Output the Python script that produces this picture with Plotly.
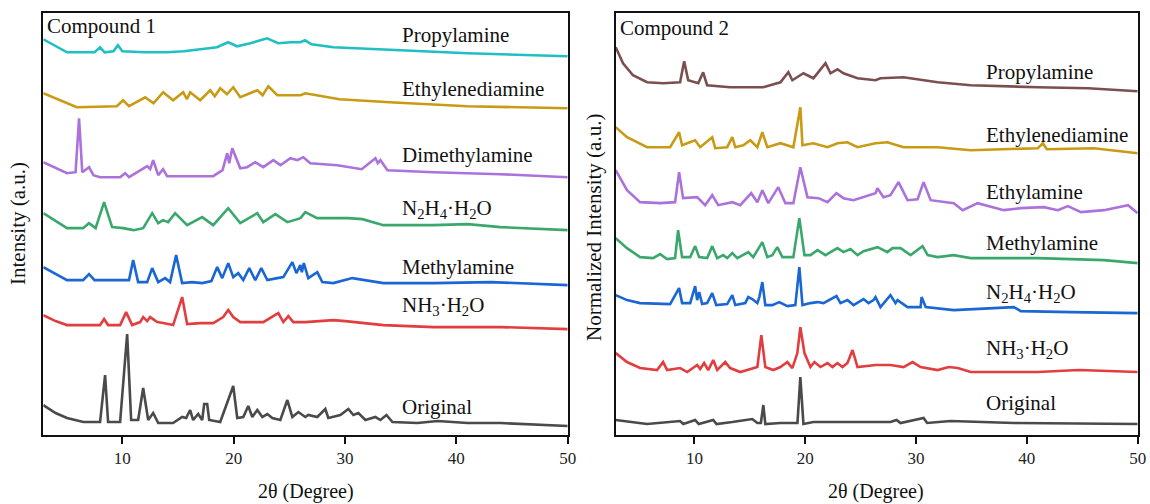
import plotly.graph_objects as go

# ---------------- Compound 1 (2theta, stacked intensity a.u.) ----------------
c1_names = ["Propylamine", "Ethylenediamine", "Dimethylamine",
            "N<sub>2</sub>H<sub>4</sub>·H<sub>2</sub>O", "Methylamine",
            "NH<sub>3</sub>·H<sub>2</sub>O", "Original"]

c1_propylamine_x = [2.9, 5.03, 7.5, 8.0, 8.4, 9.2, 9.6, 10.0, 12.0, 14.0, 15.5, 17.0, 18.5, 19.5, 20.3,
                    21.5, 23.0, 24.0, 25.1, 26.0, 26.4, 27.0, 28.95, 35.0, 41.0, 50.0]
c1_propylamine_y = [396, 383, 383, 388, 383, 384, 390, 384, 383, 383, 384, 386, 388, 393, 389,
                    392, 397, 392, 393, 393, 395, 391, 388, 385, 382, 379]

c1_ethylenediamine_x = [2.9, 5.9, 9.5, 10.07, 10.6, 12.05, 12.8, 13.66, 14.56, 15.46, 15.8, 16.09, 16.99,
                        17.89, 18.3, 18.79, 19.4, 19.96, 20.59, 22.12, 22.6, 23.11, 23.92, 26.0, 26.43,
                        27.96, 29.5, 33.99, 41.0, 50.0]
c1_ethylenediamine_y = [342, 328, 329, 335, 329, 338, 332, 343, 335, 343, 336, 343, 335,
                        345, 339, 347, 341, 348, 338, 345, 340, 349, 340, 340, 342,
                        339, 336, 333, 329, 327]

c1_dimethylamine_x = [2.9, 5.03, 5.8, 6.11, 6.4, 7.01, 7.4, 8.0, 9.8, 10.25, 10.6, 12.23, 12.5, 12.77,
                      13.22, 13.66, 14.02, 18.16, 19.0, 19.42, 19.6, 19.87, 20.59, 21.2, 21.94, 22.66,
                      23.56, 24.2, 25.09, 25.72, 26.25, 26.88, 29.31, 30.48, 31.5, 32.73, 32.95, 33.18,
                      33.81, 37.95, 43.97, 50.0]
c1_dimethylamine_y = [273, 262, 263, 317, 263, 268, 260, 258, 258, 262, 258, 269, 266, 275,
                      260, 266, 259, 259, 265, 282, 272, 287, 267, 268, 273, 268,
                      275, 270, 277, 275, 278, 272, 270, 268, 266, 277, 272, 275,
                      265, 263, 261, 258]

c1_n2h4_x = [2.9, 5.03, 6.47, 7.01, 7.6, 8.36, 9.08, 10.07, 11.0, 11.87, 12.68, 13.22, 13.66, 14.11,
             14.74, 15.82, 17.17, 18.16, 19.51, 20.59, 22.12, 22.66, 23.74, 24.82, 26.0, 26.43, 27.5,
             30.3, 31.56, 33.45, 37.95, 41.0, 43.97, 50.0]
c1_n2h4_y = [222, 207, 207, 212, 207, 233, 208, 207, 205, 207, 222, 212, 215, 213,
             222, 210, 218, 210, 227, 212, 222, 213, 221, 213, 217, 223, 217,
             217, 216, 210, 210, 211, 208, 205]

c1_methylamine_x = [2.9, 5.03, 6.47, 7.01, 7.5, 10.6, 10.97, 11.42, 12.23, 12.68, 13.22, 13.84, 14.29,
                    14.83, 15.37, 16.27, 17.17, 18.0, 18.52, 18.97, 19.51, 19.96, 20.41, 20.86, 21.4,
                    21.94, 22.48, 23.02, 23.92, 24.46, 25.27, 25.63, 25.99, 26.12, 26.3, 26.7, 27.51,
                    27.96, 28.95, 30.66, 33.45, 37.95, 43.07, 50.0]
c1_methylamine_y = [168, 155, 155, 161, 155, 155, 175, 153, 153, 167, 153, 157, 153,
                    180, 152, 153, 152, 154, 168, 157, 172, 158, 162, 155, 167,
                    155, 167, 155, 157, 158, 173, 162, 170, 163, 172, 157, 163,
                    153, 152, 157, 152, 152, 153, 150]

c1_nh3_x = [2.9, 4.0, 5.03, 8.0, 8.36, 8.72, 9.8, 10.34, 10.88, 11.6, 11.87, 12.23, 12.5, 13.13, 13.66,
            14.56, 15.37, 15.82, 16.99, 18.16, 19.06, 19.51, 19.96, 20.59, 22.66, 24.01, 24.46, 24.91,
            25.36, 26.43, 28.95, 30.03, 33.45, 37.95, 43.97, 50.0]
c1_nh3_y = [120, 114, 110, 110, 116, 110, 110, 123, 110, 113, 118, 114, 118, 113, 112,
            110, 138, 111, 112, 112, 118, 125, 118, 113, 113, 122, 113, 119,
            113, 113, 115, 114, 110, 108, 108, 106]

c1_original_x = [2.9, 4.0, 5.03, 6.5, 8.0, 8.45, 8.72, 9.8, 10.43, 10.79, 11.42, 11.87, 12.32, 12.77,
                 13.22, 14.56, 15.37, 15.73, 16.09, 16.36, 16.81, 17.17, 17.35, 17.62, 17.8, 18.79,
                 19.96, 20.32, 20.86, 21.31, 21.67, 22.12, 22.57, 23.02, 23.47, 24.19, 24.82, 25.27,
                 25.81, 26.43, 26.7, 27.51, 28.23, 28.5, 29.58, 30.3, 30.75, 31.2, 31.83, 32.73,
                 33.18, 33.72, 34.26, 36.51, 38.31, 41.0, 43.97, 50.0]
c1_original_y = [30, 22, 17, 13, 13, 60, 13, 13, 101, 15, 15, 47, 15, 22,
                 12, 12, 18, 17, 25, 15, 21, 15, 31, 31, 15, 13,
                 49, 17, 18, 29, 18, 25, 18, 21, 17, 15, 35, 18,
                 23, 18, 20, 18, 26, 17, 20, 26, 20, 22, 15, 18,
                 15, 20, 13, 12, 14, 12, 12, 9]

# ---------------- Compound 2 ----------------
c2_names = ["Propylamine", "Ethylenediamine", "Ethylamine", "Methylamine",
            "N<sub>2</sub>H<sub>4</sub>·H<sub>2</sub>O", "NH<sub>3</sub>·H<sub>2</sub>O", "Original"]

c2_propylamine_x = [2.9, 3.56, 4.46, 5.73, 7.18, 8.71, 9.08, 9.44, 10.35, 10.79, 11.15, 13.23, 16.22,
                    17.76, 18.48, 18.84, 19.84, 20.74, 21.83, 22.28, 22.91, 23.45, 24.72, 26.34, 26.79,
                    28.87, 31.95, 34.93, 40.99, 45.51, 50.0]
c2_propylamine_y = [388, 372, 360, 353, 352, 353, 374, 355, 352, 363, 350, 348, 348,
                    353, 363, 355, 362, 357, 372, 362, 366, 362, 357, 355, 357,
                    358, 353, 350, 348, 347, 344]

c2_ethylenediamine_x = [2.9, 3.92, 5.73, 7.81, 8.62, 8.89, 9.35, 10.07, 10.52, 11.61, 11.88, 12.96, 13.42,
                        13.69, 14.41, 15.04, 15.68, 16.13, 16.58, 17.76, 18.93, 19.56, 19.75, 20.74,
                        22.01, 22.91, 23.81, 24.72, 26.34, 27.42, 28.87, 31.95, 34.93, 40.99, 41.44,
                        41.8, 46.05, 50.0]
c2_ethylenediamine_y = [308, 298, 288, 288, 303, 290, 292, 295, 288, 298, 287, 288, 298,
                        288, 290, 295, 288, 303, 288, 292, 288, 328, 290, 292,
                        288, 292, 293, 288, 292, 293, 288, 288, 285, 287, 292,
                        286, 287, 282]

c2_ethylamine_x = [2.9, 3.92, 5.1, 6.91, 8.26, 8.62, 8.98, 10.25, 10.97, 11.61, 12.15, 13.42, 14.14,
                   15.13, 15.68, 16.13, 16.67, 17.57, 18.21, 18.93, 19.56, 20.2, 21.2, 22.01, 22.82,
                   23.45, 24.36, 25.26, 26.34, 26.52, 27.06, 27.69, 28.42, 29.23, 30.14, 30.68, 31.32,
                   33.4, 34.21, 35.56, 37.92, 39.45, 41.53, 42.8, 43.7, 44.88, 46.96, 49.13, 50.0]
c2_ethylamine_y = [265, 245, 233, 232, 233, 263, 237, 238, 230, 240, 230, 233, 230,
                   242, 233, 245, 232, 248, 232, 232, 268, 238, 237, 233, 242,
                   237, 235, 238, 242, 247, 238, 240, 253, 235, 236, 253, 235,
                   232, 225, 232, 225, 227, 228, 225, 229, 223, 225, 230, 222]

c2_methylamine_x = [2.9, 3.92, 5.1, 6.27, 6.91, 7.54, 8.26, 8.53, 8.89, 9.62, 10.07, 10.43, 11.15, 11.61,
                    12.06, 12.6, 12.96, 13.42, 13.87, 14.86, 15.31, 16.13, 16.58, 17.03, 17.48, 17.94,
                    18.93, 19.47, 19.93, 20.47, 21.11, 21.83, 22.91, 23.45, 24.09, 24.72, 25.26, 26.34,
                    26.52, 27.42, 27.87, 28.6, 29.51, 30.59, 31.05, 31.95, 33.4, 34.93, 40.99, 46.96, 50.0]
c2_methylamine_y = [197, 187, 178, 177, 181, 176, 177, 205, 178, 178, 189, 178, 177, 189,
                    177, 180, 177, 182, 177, 183, 178, 193, 178, 180, 188, 178,
                    178, 217, 180, 180, 185, 180, 187, 183, 186, 180, 184, 187,
                    188, 183, 187, 187, 180, 189, 180, 178, 180, 177, 177, 175, 172]

c2_n2h4_x = [2.9, 3.92, 5.1, 7.81, 8.62, 8.89, 9.62, 10.07, 10.25, 10.43, 10.7, 11.15, 11.61, 11.97,
             12.96, 13.42, 13.69, 14.59, 14.86, 15.22, 15.68, 15.86, 16.13, 16.4, 17.03, 17.66, 18.39,
             19.11, 19.47, 19.75, 20.47, 21.11, 21.65, 22.82, 23.18, 23.81, 24.36, 25.26, 25.71,
             26.16, 26.34, 26.79, 27.69, 28.15, 28.33, 29.23, 30.41, 30.5, 30.87, 33.4, 38.82,
             39.45, 43.97, 50.0]
c2_n2h4_y = [140, 135, 132, 131, 147, 132, 132, 149, 135, 143, 131, 132, 142, 130,
             131, 140, 130, 132, 138, 136, 132, 138, 153, 130, 130, 133, 129,
             130, 168, 130, 132, 133, 132, 139, 132, 135, 130, 136, 132,
             135, 138, 128, 140, 132, 135, 128, 128, 138, 128, 125, 128,
             124, 123, 122]

c2_nh3_x = [2.9, 3.92, 5.1, 6.63, 7.18, 7.54, 8.71, 9.35, 10.25, 10.52, 10.88, 11.25, 11.7, 12.06, 12.78,
            13.23, 14.14, 15.22, 15.68, 16.04, 16.4, 17.12, 17.76, 18.39, 18.84, 19.29, 19.56, 19.93,
            20.47, 20.83, 21.38, 22.01, 22.46, 22.91, 23.36, 23.81, 24.27, 24.72, 26.34, 27.69, 28.87,
            29.69, 30.41, 31.95, 32.95, 33.76, 34.93, 40.99, 44.7, 50.0]
c2_nh3_y = [82, 73, 67, 65, 73, 65, 67, 63, 70, 66, 72, 65, 75, 65, 73,
            67, 63, 67, 68, 100, 68, 65, 68, 73, 67, 82, 108, 82,
            68, 73, 68, 72, 68, 72, 68, 72, 85, 68, 70, 70, 68,
            73, 68, 65, 68, 67, 63, 63, 65, 63]

c2_original_x = [2.9, 5.73, 8.71, 9.0, 10.07, 10.4, 11.7, 12.0, 13.42, 15.22, 15.68, 16.0, 16.22, 16.4,
                 17.76, 19.3, 19.56, 19.84, 20.74, 22.91, 27.69, 28.24, 28.6, 30.68, 31.0, 33.13,
                 38.82, 50.0]
c2_original_y = [15, 11, 14, 11, 15, 11, 15, 11, 13, 16, 12, 12, 30, 11,
                 12, 12, 58, 11, 13, 13, 13, 15, 12, 17, 12, 14,
                 12, 11]

colors = ["#1fbfc3", "#c99a14", "#ab72dc", "#3aa86c", "#1a66d4", "#e23d3f", "#4a4a4a"]
colors2 = ["#7b4f4f", "#c99a14", "#ab72dc", "#3aa86c", "#1a66d4", "#e23d3f", "#4a4a4a"]

c1_series = [(c1_propylamine_x, c1_propylamine_y), (c1_ethylenediamine_x, c1_ethylenediamine_y),
             (c1_dimethylamine_x, c1_dimethylamine_y), (c1_n2h4_x, c1_n2h4_y),
             (c1_methylamine_x, c1_methylamine_y), (c1_nh3_x, c1_nh3_y),
             (c1_original_x, c1_original_y)]
c2_series = [(c2_propylamine_x, c2_propylamine_y), (c2_ethylenediamine_x, c2_ethylenediamine_y),
             (c2_ethylamine_x, c2_ethylamine_y), (c2_methylamine_x, c2_methylamine_y),
             (c2_n2h4_x, c2_n2h4_y), (c2_nh3_x, c2_nh3_y), (c2_original_x, c2_original_y)]

# label vertical positions (a.u.)
c1_label_y = [400, 346, 280, 226, 168, 129, 28]
c2_label_y = [363, 300, 243, 192, 142, 86, 32]

FONT = "Liberation Serif, Times New Roman, serif"

fig = go.Figure()
for (xs, ys), col, nm in zip(c1_series, colors, c1_names):
    fig.add_trace(go.Scatter(x=xs, y=ys, mode="lines", line=dict(color=col, width=2.6),
                             name=nm, xaxis="x", yaxis="y", hoverinfo="skip"))
for (xs, ys), col, nm in zip(c2_series, colors2, c2_names):
    fig.add_trace(go.Scatter(x=xs, y=ys, mode="lines", line=dict(color=col, width=2.6),
                             name=nm, xaxis="x2", yaxis="y2", hoverinfo="skip"))

annotations = []
for nm, yv in zip(c1_names, c1_label_y):
    annotations.append(dict(x=34.9, y=yv, xref="x", yref="y", text=nm, showarrow=False,
                            xanchor="left", yanchor="middle", font=dict(family=FONT, size=21, color="#111")))
for nm, yv in zip(c2_names, c2_label_y):
    annotations.append(dict(x=36.1, y=yv, xref="x2", yref="y2", text=nm, showarrow=False,
                            xanchor="left", yanchor="middle", font=dict(family=FONT, size=21, color="#111")))
annotations += [
    dict(x=3.05, y=409, xref="x", yref="y", text="Compound 1", showarrow=False, xanchor="left",
         yanchor="middle", font=dict(family=FONT, size=21, color="#111")),
    dict(x=3.1, y=407, xref="x2", yref="y2", text="Compound 2", showarrow=False, xanchor="left",
         yanchor="middle", font=dict(family=FONT, size=21, color="#111")),
    dict(x=306 / 1150, y=(504 - 491) / 504, xref="paper", yref="paper", text="2θ (Degree)",
         showarrow=False, xanchor="center", yanchor="middle", font=dict(family=FONT, size=20, color="#111")),
    dict(x=876 / 1150, y=(504 - 491) / 504, xref="paper", yref="paper", text="2θ (Degree)",
         showarrow=False, xanchor="center", yanchor="middle", font=dict(family=FONT, size=20, color="#111")),
    dict(x=18 / 1150, y=(504 - 224) / 504, xref="paper", yref="paper", text="Intensity (a.u.)",
         showarrow=False, textangle=-90, xanchor="center", yanchor="middle",
         font=dict(family=FONT, size=21, color="#111")),
    dict(x=594 / 1150, y=(504 - 228) / 504, xref="paper", yref="paper", text="Normalized Intensity (a.u.)",
         showarrow=False, textangle=-90, xanchor="center", yanchor="middle",
         font=dict(family=FONT, size=21, color="#111")),
]

xaxis_common = dict(range=[2.9, 50], tickvals=[10, 20, 30, 40, 50], ticks="outside", ticklen=7,
                    tickwidth=2, tickcolor="#111", showline=True, linecolor="#111", linewidth=2,
                    mirror=True, showgrid=False, zeroline=False, automargin=False,
                    tickfont=dict(family=FONT, size=17, color="#222"))
yaxis_common = dict(range=[0, 422], showticklabels=False, ticks="", showline=True, linecolor="#111",
                    linewidth=2, mirror=True, showgrid=False, zeroline=False, automargin=False,
                    domain=[69 / 504, (504 - 13.3) / 504])

fig.update_layout(
    width=1150, height=504, margin=dict(l=0, r=0, t=0, b=0),
    paper_bgcolor="white", plot_bgcolor="white", showlegend=False,
    xaxis=dict(domain=[43.3 / 1150, 567.7 / 1150], anchor="y", **xaxis_common),
    yaxis=dict(anchor="x", **yaxis_common),
    xaxis2=dict(domain=[615.7 / 1150, 1137.7 / 1150], anchor="y2", **xaxis_common),
    yaxis2=dict(anchor="x2", **yaxis_common),
    annotations=annotations,
)

fig.write_html("out.html")
